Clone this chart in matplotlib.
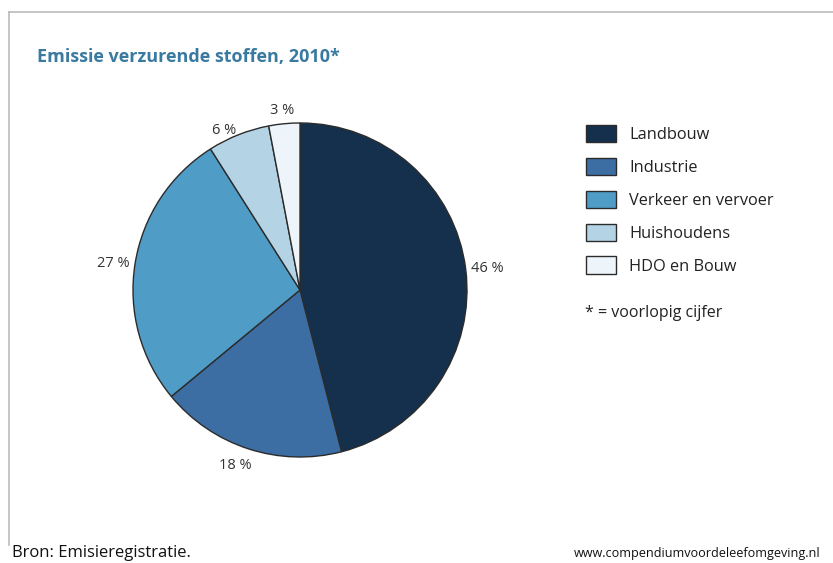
import matplotlib.pyplot as plt
from matplotlib.lines import Line2D

# data
categories = ['Landbouw', 'Industrie', 'Verkeer en vervoer', 'Huishoudens', 'HDO en Bouw']
shares = [46, 18, 27, 6, 3]
colors = ['#14304d', '#3c6ea4', '#4f9dc6', '#b4d4e6', '#eef5fa']

plt.rcParams['font.family'] = ['Open Sans', 'DejaVu Sans']

fig = plt.figure(figsize=(8.33, 5.63), dpi=100)
fig.patch.set_facecolor('white')

# pie axes: centre (300, 290) px, radius ~167 px
W, H = 833, 563
cx, cy, r = 300, 290, 167
ax = fig.add_axes([(cx - r) / W, (H - cy - r) / H, 2 * r / W, 2 * r / H])
wedges, texts = ax.pie(shares, colors=colors, startangle=90, counterclock=False,
                       labels=[f'{s} %' for s in shares], labeldistance=1.03,
                       wedgeprops=dict(edgecolor='#2b2b2b', linewidth=1.0),
                       textprops=dict(fontsize=10.5, color='#333333'))
ax.set_aspect('equal')
ax.set_xlim(-1, 1)
ax.set_ylim(-1, 1)
ax.axis('off')
for t in texts:
    t.set_clip_on(False)
# small nudges so labels sit like the original
x, y = texts[1].get_position()
texts[1].set_position((x + 0.03, y - 0.07))
x, y = texts[4].get_position()
texts[4].set_position((x + 0.06, y + 0.05))

# title
fig.text(37 / W, 1 - 57 / H, 'Emissie verzurende stoffen, 2010*', fontsize=13,
         fontweight='bold', color='#3a7aa0', va='center', ha='left')

# legend
fig.legend(wedges, categories, loc='upper left', bbox_to_anchor=(571 / W, 1 - 110 / H),
           frameon=False, fontsize=11.8, handlelength=1.85, handleheight=1.25,
           labelspacing=0.9, handletextpad=0.8, labelcolor='#222222')
fig.text(585 / W, 1 - 313 / H, '* = voorlopig cijfer', fontsize=11.5, color='#222222',
         va='center', ha='left')

# frame lines
fig.add_artist(Line2D([9 / W, 1.0], [1 - 12 / H, 1 - 12 / H], color='#bbbbbb', linewidth=1.2))
fig.add_artist(Line2D([9 / W, 9 / W], [1 - 12 / H, 1 - 545 / H], color='#bbbbbb', linewidth=1.2))

# footer
fig.text(12 / W, 1 - 553 / H, 'Bron: Emisieregistratie.', fontsize=12, color='#111111',
         va='center', ha='left')
fig.text(574 / W, 1 - 553 / H, 'www.compendiumvoordeleefomgeving.nl', fontsize=9.1,
         color='#111111', va='center', ha='left')

fig.savefig('out.png', dpi=100)
